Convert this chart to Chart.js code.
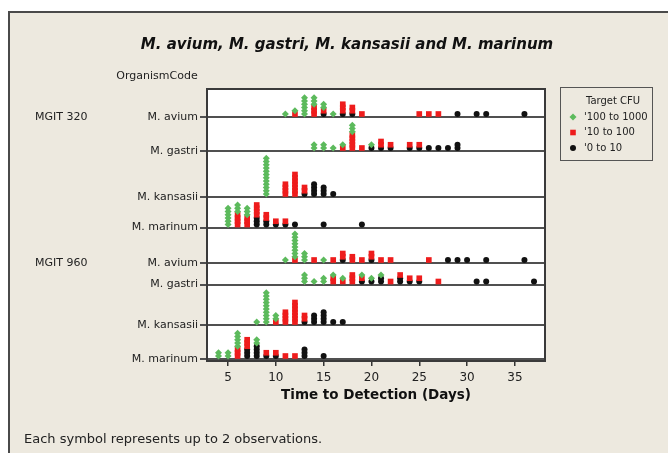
<!DOCTYPE html>
<html>
<head>
<meta charset="utf-8">
<script src="https://cdn.jsdelivr.net/npm/chart.js@4.4.0/dist/chart.umd.min.js"></script>
<style>
  html, body { margin: 0; padding: 0; background: #fff; }
</style>
</head>
<body>
<canvas id="myChart" width="668" height="453"></canvas>
<script>
// Data: one list per CFU level, one sub-list per row, entries are [day, symbols]
const rowNames = ['M. avium', 'M. gastri', 'M. kansasii', 'M. marinum',
                  'M. avium', 'M. gastri', 'M. kansasii', 'M. marinum'];
const systemNames = ['MGIT 320', 'MGIT 960'];
const levelNames = ["'100 to 1000", "'10 to 100", "'0 to 10"];
const xTicks = [5, 10, 15, 20, 25, 30, 35];

const cfuHigh = [
  [[11,1],[12,1],[13,6],[14,3],[15,2],[16,1]],
  [[14,2],[15,2],[16,1],[17,1],[18,3],[20,1]],
  [[9,12]],
  [[5,6],[6,3],[7,3]],
  [[11,1],[12,8],[13,3],[15,1]],
  [[13,3],[14,1],[15,2],[16,1],[17,1],[19,1],[20,1],[21,1]],
  [[8,1],[9,10],[10,2]],
  [[4,2],[5,2],[6,5],[8,2]]
];
const cfuMid = [
  [[12,1],[14,3],[15,1],[17,3],[18,2],[19,1],[25,1],[26,1],[27,1]],
  [[17,1],[18,5],[19,1],[21,2],[22,1],[24,1],[25,1]],
  [[11,4],[12,7],[13,2]],
  [[6,4],[7,3],[8,4],[9,2],[10,1],[11,1]],
  [[12,1],[14,1],[16,1],[17,2],[18,2],[19,1],[20,2],[21,1],[22,1],[26,1]],
  [[16,2],[17,1],[18,3],[19,1],[22,1],[23,1],[24,1],[25,1],[27,1]],
  [[10,1],[11,4],[12,7],[13,2]],
  [[6,3],[7,3],[9,1],[10,1],[11,1],[12,1]]
];
const cfuLow = [
  [[15,1],[17,1],[18,1],[29,1],[31,1],[32,1],[36,1]],
  [[20,1],[21,1],[22,1],[24,1],[25,1],[26,1],[27,1],[28,1],[29,2]],
  [[13,1],[14,4],[15,3],[16,1]],
  [[8,3],[9,2],[10,1],[11,1],[12,1],[15,1],[19,1]],
  [[17,1],[20,1],[28,1],[29,1],[30,1],[32,1],[36,1]],
  [[19,1],[20,1],[21,2],[23,2],[24,1],[25,1],[31,1],[32,1],[37,1]],
  [[13,1],[14,3],[15,4],[16,1],[17,1]],
  [[7,3],[8,4],[9,1],[10,1],[13,3],[15,1]]
];

// Layout: row baselines (px below top of plot), stacking of symbols
const rowBase = [28, 62, 108, 138.5, 174, 195.5, 236, 270];
const plotHeight = 272;
const firstOffset = 3;
const stackStep = 3.25;

const greenColor = '#5cba5c';
const redColor = '#ee1c1c';
const blackColor = '#111111';
const font = '"DejaVu Sans", Verdana, sans-serif';

// stack black at the bottom, then red, then green
const levels = [cfuLow, cfuMid, cfuHigh];
const points = levels.map(() => []);
rowNames.forEach((name, r) => {
  const used = {};
  levels.forEach((level, g) => {
    level[r].forEach(([day, n]) => {
      for (let i = 0; i < n; i++) {
        const k = used[day] || 0;
        points[g].push({ x: day, y: rowBase[r] - firstOffset - k * stackStep });
        used[day] = k + 1;
      }
    });
  });
});

function drawSymbol(ctx, style, x, y, color) {
  ctx.fillStyle = color;
  ctx.beginPath();
  if (style === 'rectRot') {
    ctx.moveTo(x - 3.5, y); ctx.lineTo(x, y - 3.5); ctx.lineTo(x + 3.5, y); ctx.lineTo(x, y + 3.5);
  } else if (style === 'rect') {
    ctx.rect(x - 2.8, y - 2.8, 5.6, 5.6);
  } else {
    ctx.arc(x, y, 3, 0, Math.PI * 2);
  }
  ctx.closePath();
  ctx.fill();
}

const decor = {
  id: 'dotplot_decor',
  beforeDraw: (chart) => {
    const ctx = chart.ctx;
    const a = chart.chartArea;
    ctx.save();
    ctx.fillStyle = '#ffffff';
    ctx.fillRect(0, 0, chart.width, chart.height);
    ctx.fillStyle = '#ede9df';
    ctx.fillRect(9, 12, chart.width, chart.height);
    ctx.strokeStyle = '#4a4a4a';
    ctx.lineWidth = 2;
    ctx.strokeRect(9, 12, chart.width + 20, chart.height + 20);
    ctx.fillStyle = '#ffffff';
    ctx.fillRect(a.left, a.top, a.right - a.left, a.bottom - a.top);
    ctx.restore();
  },
  afterDraw: (chart) => {
    const ctx = chart.ctx;
    const a = chart.chartArea;
    const y = chart.scales.y;
    ctx.save();
    ctx.strokeStyle = '#3a3a3a';
    ctx.lineWidth = 2;
    ctx.strokeRect(a.left, a.top, a.right - a.left, a.bottom - a.top);

    ctx.fillStyle = '#111';
    ctx.textBaseline = 'middle';
    ctx.textAlign = 'center';
    ctx.font = 'italic bold 15px ' + font;
    ctx.fillText('M. avium, M. gastri, M. kansasii and M. marinum', 347, 45);

    ctx.fillStyle = '#222';
    ctx.font = '11px ' + font;
    ctx.fillText('OrganismCode', 157, 76);
    ctx.textAlign = 'left';
    ctx.fillText(systemNames[0], 35, y.getPixelForValue(rowBase[0]));
    ctx.fillText(systemNames[1], 35, y.getPixelForValue(rowBase[4]));

    ctx.font = '13px ' + font;
    ctx.fillText('Each symbol represents up to 2 observations.', 24, 440);

    // legend box
    ctx.strokeStyle = '#555';
    ctx.lineWidth = 1;
    ctx.strokeRect(560.5, 87.5, 92, 73);
    ctx.fillStyle = '#222';
    ctx.font = '10px ' + font;
    ctx.fillText('Target CFU', 586, 101);
    const styles = ['rectRot', 'rect', 'circle'];
    const colors = [greenColor, redColor, blackColor];
    levelNames.forEach((label, i) => {
      const ly = 117 + i * 15.5;
      drawSymbol(ctx, styles[i], 573, ly, colors[i]);
      ctx.fillStyle = '#222';
      ctx.fillText(label, 584, ly);
    });
    ctx.restore();
  }
};

const ctx = document.getElementById('myChart').getContext('2d');
const chart = new Chart(ctx, {
  type: 'scatter',
  data: {
    datasets: [
      {
        label: levelNames[0],
        data: points[2],
        pointStyle: 'rectRot',
        pointRadius: 3.5,
        backgroundColor: greenColor,
        borderColor: greenColor,
        borderWidth: 0
      },
      {
        label: levelNames[1],
        data: points[1],
        pointStyle: 'rect',
        pointRadius: 4,
        backgroundColor: redColor,
        borderColor: redColor,
        borderWidth: 0
      },
      {
        label: levelNames[2],
        data: points[0],
        pointStyle: 'circle',
        pointRadius: 3,
        backgroundColor: blackColor,
        borderColor: blackColor,
        borderWidth: 0
      }
    ]
  },
  plugins: [decor],
  options: {
    responsive: false,
    animation: false,
    devicePixelRatio: 1,
    events: [],
    layout: { padding: { top: 89, right: 123, left: 0, bottom: 0 } },
    plugins: {
      legend: { display: false },
      tooltip: { enabled: false }
    },
    scales: {
      x: {
        type: 'linear',
        min: 2.8,
        max: 38.15,
        afterBuildTicks: (scale) => { scale.ticks = xTicks.map(v => ({ value: v })); },
        afterFit: (scale) => { scale.height = 92; },
        grid: { drawOnChartArea: false, tickLength: 5, color: '#333', lineWidth: 1.5 },
        border: { color: '#3a3a3a', width: 2 },
        ticks: { padding: 5, color: '#222', font: { family: 'DejaVu Sans', size: 12 } },
        title: {
          display: true,
          text: 'Time to Detection (Days)',
          color: '#111',
          font: { family: 'DejaVu Sans', size: 13.5, weight: 'bold' },
          padding: { top: 0, bottom: 49 }
        }
      },
      y: {
        type: 'linear',
        reverse: true,
        min: 0,
        max: plotHeight,
        afterBuildTicks: (scale) => { scale.ticks = rowBase.map(v => ({ value: v })); },
        afterFit: (scale) => { scale.width = 207; },
        grid: { color: '#505050', lineWidth: 2, tickLength: 7 },
        border: { color: '#3a3a3a', width: 2 },
        ticks: {
          padding: 2,
          color: '#222',
          font: { family: 'DejaVu Sans', size: 11 },
          callback: (value, index) => rowNames[index]
        }
      }
    }
  }
});
</script>
</body>
</html>
